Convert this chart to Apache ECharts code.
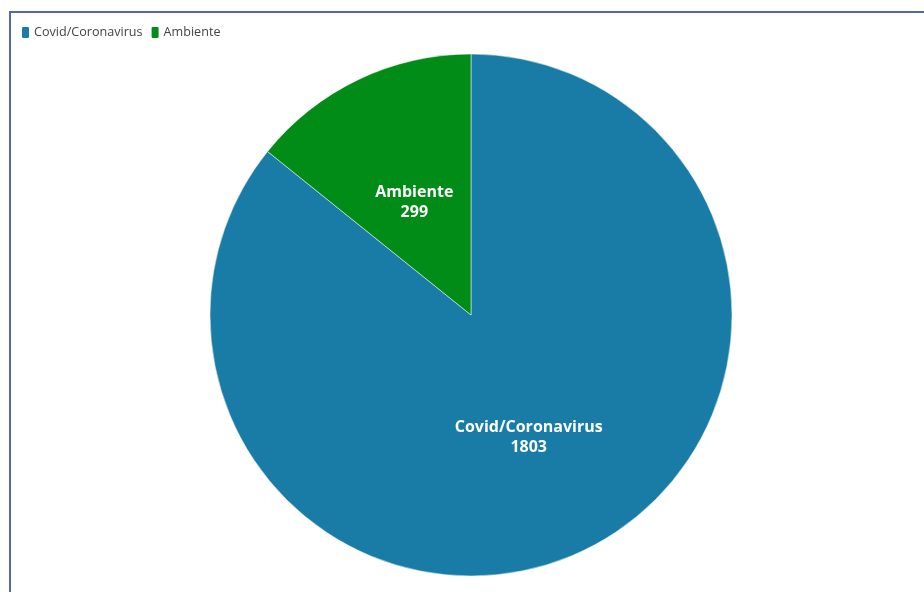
<!DOCTYPE html>
<html>
<head>
<meta charset="utf-8">
<script src="https://cdn.jsdelivr.net/npm/echarts@6/dist/echarts.min.js"></script>
<style>
  html, body { margin: 0; padding: 0; background: #fff; overflow: hidden; }
  #frame {
    position: absolute; left: 9px; top: 11px; width: 940px; height: 600px;
    border-left: 2px solid #5b66a8; border-top: 2px solid #5b66a8;
    box-sizing: border-box;
  }
  #chart { position: absolute; left: 0; top: 0; width: 924px; height: 592px; }
</style>
</head>
<body>
<div id="frame"></div>
<div id="chart"></div>
<script>
// Topics and article counts
const categories = ['Covid/Coronavirus', 'Ambiente'];
const values = [1803, 299];
const colors = ['#197ca6', '#018c18'];
const labelShift = [[0, 2], [1, 8]];

const chart = echarts.init(document.getElementById('chart'), null, { renderer: 'canvas' });

chart.setOption({
  animation: false,
  color: colors,
  legend: {
    left: 15,
    top: 20,
    itemWidth: 9,
    itemHeight: 13,
    itemGap: 7,
    icon: 'roundRect',
    textStyle: { fontFamily: 'Open Sans', fontSize: 12.6, color: '#444', padding: [0, 0, 0, -1] },
    data: categories
  },
  series: [{
    type: 'pie',
    center: [471, 315],
    radius: [0, 261],
    startAngle: 90,
    clockwise: true,
    avoidLabelOverlap: false,
    itemStyle: { borderColor: '#fff', borderWidth: 0.5 },
    label: {
      show: true,
      position: 'inner',
      formatter: '{b}\n{c}',
      color: '#fff',
      fontFamily: 'Open Sans',
      fontWeight: 'bold',
      fontSize: 16,
      lineHeight: 20
    },
    labelLine: { show: false },
    emphasis: { disabled: true },
    data: categories.map((name, i) => ({
      name,
      value: values[i],
      label: { offset: labelShift[i] }
    }))
  }]
});
</script>
</body>
</html>
